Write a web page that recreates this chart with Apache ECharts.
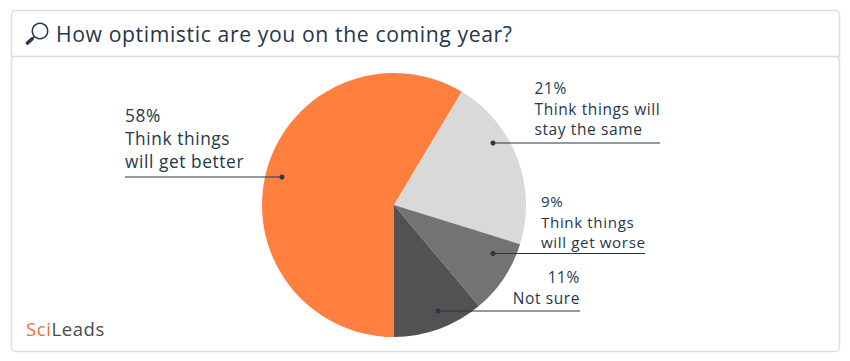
<!DOCTYPE html>
<html><head><meta charset="utf-8">
<style>html,body{margin:0;padding:0;background:#fff}#c{width:850px;height:361px;letter-spacing:0.6px}</style>
<script src="https://cdn.jsdelivr.net/npm/echarts@6/dist/echarts.min.js"></script>
</head><body><div id="c"></div>
<script>
const categories = ['Think things will get better','Think things will stay the same','Think things will get worse','Not sure'];
const values = [58,21,9,11];
const labelLines = [['58%','Think things','will get better'],['21%','Think things will','stay the same'],['9%','Think things','will get worse'],['11%','Not sure']];
const colors = ['#FF7F3F','#D9D9D9','#737373','#525252'];
const titleText = 'How optimistic are you on the coming year?';
const logoParts = ['Sci','Leads'];
const INK = '#25374A', FONT = '"Open Sans"';
// [line start x, line end x, line y, dot x, text x, text align, text centre y, font size, line height, weight]
const leaders = [
  [125,282,177,282,125,'left',138.5,17.3,23,500],
  [493,660,143,493,534.5,'left',108.5,15.5,20.5,400],
  [493,645,253.5,493,541,'left',221.5,15.2,20.5,400],
  [438,580,311,438,580,'right',287.5,15.5,20.5,400]
];

const chart = echarts.init(document.getElementById('c'),null,{renderer:'svg'});
const g = [];
g.push({type:'rect',z:0,shape:{x:11.5,y:10.5,width:828,height:46,r:[4,4,0,0]},style:{fill:'#fff',stroke:'#DEDEDE',lineWidth:1.5}});
g.push({type:'rect',z:0,shape:{x:11.5,y:56.5,width:828,height:295,r:[4,4,4,4]},style:{fill:'#fff',stroke:'#DEDEDE',lineWidth:1.5}});
g.push({type:'text',z:5,style:{x:56,y:33.5,text:titleText,fill:INK,font:'500 21.2px '+FONT,textAlign:'left',textVerticalAlign:'middle'}});
g.push({type:'circle',z:5,shape:{cx:40,cy:31,r:7.7},style:{fill:'#fff',stroke:INK,lineWidth:1.5}});
g.push({type:'line',z:5,shape:{x1:34.5,y1:36.5,x2:31,y2:40},style:{stroke:INK,lineWidth:1.5}});
g.push({type:'line',z:5,shape:{x1:32,y1:39,x2:27.5,y2:43},style:{stroke:INK,lineWidth:3.6,lineCap:'round'}});
g.push({type:'text',z:5,style:{x:26,y:328,text:logoParts[0],fill:'#F0703A',font:'500 18.5px '+FONT,textVerticalAlign:'middle'}});
g.push({type:'text',z:5,style:{x:51.5,y:328,text:logoParts[1],fill:'#4A4A4A',font:'500 18.5px '+FONT,textVerticalAlign:'middle'}});
leaders.forEach(l=>{
  g.push({type:'line',z:6,shape:{x1:l[0],y1:l[2],x2:l[1],y2:l[2]},style:{stroke:INK,lineWidth:1.2}});
  g.push({type:'circle',z:6,shape:{cx:l[3],cy:l[2],r:2.5},style:{fill:INK}});
});
chart.setOption({
  animation:false,
  graphic:g,
  color:colors,
  series:[{
    type:'pie',z:3,center:[394,205],radius:[0,132],startAngle:-90,clockwise:true,
    silent:true,
    data:categories.map((n,i)=>({name:n,value:values[i],label:{formatter:labelLines[i].join('\n'),align:leaders[i][5],fontWeight:leaders[i][9],fontSize:leaders[i][7],lineHeight:leaders[i][8]}})),
    label:{show:true,position:'outside',color:INK,fontFamily:FONT},
    labelLine:{show:false},
    labelLayout:p=>{
      const l=leaders[p.dataIndex];
      return {x:l[4],y:l[6],align:l[5],verticalAlign:'middle',hideOverlap:false};
    },
    itemStyle:{borderWidth:0}
  }]
});
</script></body></html>
